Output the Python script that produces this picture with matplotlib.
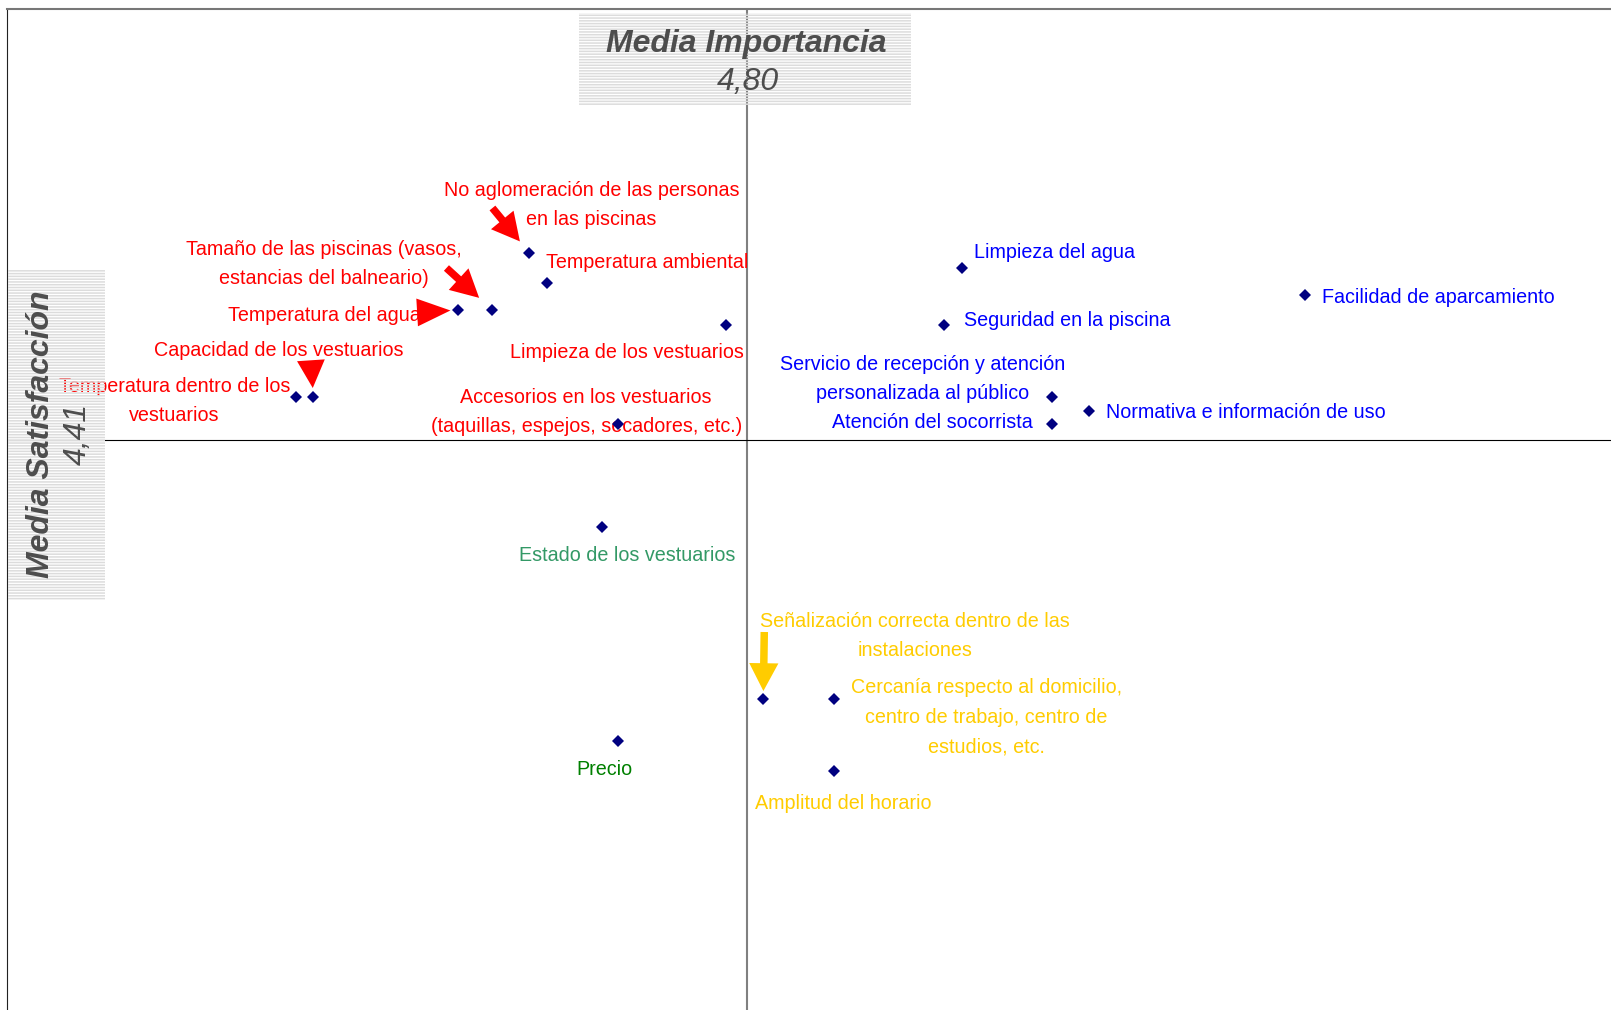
import matplotlib
matplotlib.use('Agg')
import matplotlib.pyplot as plt
from matplotlib.patches import Rectangle

plt.rcParams['font.family'] = ['Liberation Sans', 'DejaVu Sans']
plt.rcParams['hatch.linewidth'] = 1.1

# medias de referencia (ejes de cuadrantes)
media_imp = 4.80
media_sat = 4.41

# atributos: nombre, importancia, satisfaccion
nombres = ['No aglomeración de las personas\nen las piscinas',
           'Temperatura ambiental',
           'Tamaño de las piscinas (vasos,\nestancias del balneario)',
           'Temperatura del agua',
           'Limpieza de los vestuarios',
           'Capacidad de los vestuarios',
           'Temperatura dentro de los\nvestuarios',
           'Accesorios en los vestuarios\n(taquillas, espejos, secadores, etc.)',
           'Estado de los vestuarios',
           'Precio',
           'Señalización correcta dentro de las\ninstalaciones',
           'Cercanía respecto al domicilio,\ncentro de trabajo, centro de\nestudios, etc.',
           'Amplitud del horario',
           'Limpieza del agua',
           'Facilidad de aparcamiento',
           'Seguridad en la piscina',
           'Servicio de recepción y atención\npersonalizada al público',
           'Atención del socorrista',
           'Normativa e información de uso']
importancia = [4.653, 4.665, 4.628, 4.605, 4.786, 4.507, 4.495, 4.713, 4.702, 4.713,
               4.811, 4.859, 4.859, 4.945, 5.177, 4.933, 5.006, 5.006, 5.031]
satisfaccion = [4.597, 4.567, 4.540, 4.540, 4.525, 4.453, 4.453, 4.426, 4.323, 4.109,
                4.151, 4.151, 4.079, 4.582, 4.555, 4.525, 4.453, 4.426, 4.439]

ROJO, AZUL, AMAR = '#FF0000', '#0000FF', '#FFCC00'
colores = [ROJO] * 8 + ['#339966', '#008000'] + [AMAR] * 3 + [AZUL] * 6

# posicion de cada etiqueta respecto a su punto (pixeles) y alineacion
offsets = [(62, 50, 'center'), (-1, 22, 'left'), (-169, 48, 'center'), (-134, -4, 'center'),
           (-99, -26, 'center'), (-35, 48, 'center'), (-121, -2, 'center'), (-32, 14, 'center'),
           (25, -27, 'center'), (-14, -26, 'center'), (152, 65, 'center'), (152, -16, 'center'),
           (9, -30, 'center'), (12, 18, 'left'), (17, 0, 'left'), (20, 6, 'left'),
           (-129, 20, 'center'), (-19, 3, 'right'), (17, 0, 'left')]

# flechas: indice del punto, cola (px), separacion de la punta (px), largo y ancho de la punta (pt), color
flechas = [(0, -37, 45, 15, 20, 21, ROJO), (2, -46, 42, 18, 20, 21, ROJO),
           (3, -34, -2, 8, 24, 20, ROJO), (5, -2, 30, 9, 20, 20, ROJO),
           (10, 1, 67, 8, 20, 21, AMAR)]

W, H = 1611, 1010
fig = plt.figure(figsize=(W / 100, H / 100), dpi=100)
ax = fig.add_axes([7 / W, 0, 1 - 7 / W, 1 - 9 / H])
ax.set_xlim(4.30, 4.30 + 1604 / 1480)
ax.set_ylim(media_sat - 0.570, media_sat + 0.431)
ax.set_xticks([])
ax.set_yticks([])
for s in ['right', 'bottom']:
    ax.spines[s].set_visible(False)
ax.spines['top'].set_color('#777777')
ax.spines['top'].set_linewidth(1.5)
ax.spines['left'].set_color('#222222')
ax.spines['left'].set_linewidth(0.8)

ax.axvline(media_imp, color='#808080', lw=1.5, zorder=1)
ax.axhline(media_sat, color='black', lw=0.8, zorder=1)

for n, x, y, c, (dx, dy, ha) in zip(nombres, importancia, satisfaccion, colores, offsets):
    ax.annotate(n, (x, y), xytext=(dx, dy - 2), textcoords='offset pixels', ha=ha, va='center',
                multialignment='center', color=c, fontsize=14.2, linespacing=1.72, zorder=2)

ax.plot(importancia, satisfaccion, 'D', color='#000080', ms=6.2, mew=0, zorder=4)

for i, dx, dy, gap, hl, hw, c in flechas:
    estilo = f'simple,head_length={hl / 20},head_width={hw / 20},tail_width=0.27'
    ax.annotate('', (importancia[i], satisfaccion[i]), xytext=(dx, dy), textcoords='offset pixels',
                arrowprops=dict(arrowstyle=estilo, color=c, mutation_scale=20,
                                shrinkA=0, shrinkB=gap * 0.72, lw=0),
                zorder=3)

# cajas rayadas de las medias
def caja(x0, y0, x1, y1):
    r = Rectangle((x0 / W, 1 - y1 / H), (x1 - x0) / W, (y1 - y0) / H, transform=fig.transFigure,
                  facecolor='none', edgecolor='#dcdcdc', hatch='------', lw=0, zorder=5)
    fig.add_artist(r)

caja(579, 13, 911, 106)
caja(8, 269, 105, 600)

gris = '#4d4d4d'
fig.text(746 / W, 1 - 44 / H, 'Media Importancia', ha='center', va='center', fontsize=23,
         fontweight='bold', fontstyle='italic', color=gris, zorder=6)
fig.text(748 / W, 1 - 82 / H, f'{media_imp:.2f}'.replace('.', ','), ha='center', va='center',
         fontsize=23, fontstyle='italic', color=gris, zorder=6)
fig.text(41 / W, 1 - 434 / H, 'Media Satisfacción', ha='center', va='center', fontsize=23,
         fontweight='bold', fontstyle='italic', color=gris, rotation=90, zorder=6)
fig.text(78 / W, 1 - 434 / H, f'{media_sat:.2f}'.replace('.', ','), ha='center', va='center',
         fontsize=23, fontstyle='italic', color=gris, rotation=90, zorder=6)

fig.savefig('out.png', dpi=100)
